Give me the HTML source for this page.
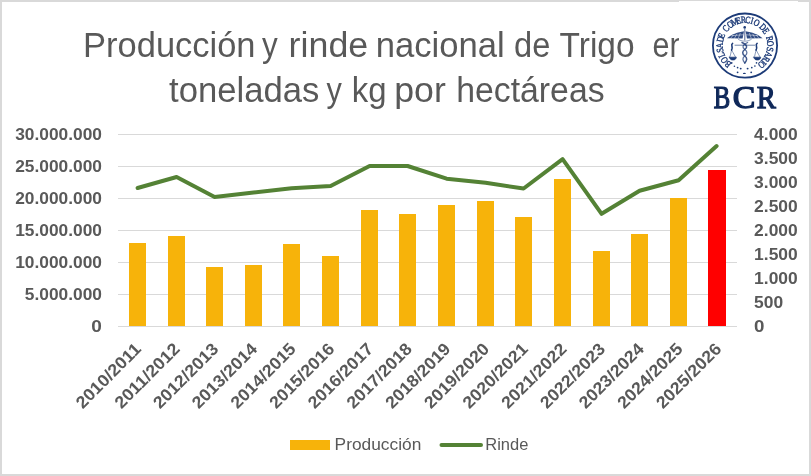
<!DOCTYPE html>
<html><head><meta charset="utf-8"><style>
html,body{margin:0;padding:0;background:#fff;}
svg{display:block;will-change:transform;}
.ax{font-family:"Liberation Sans",sans-serif;font-weight:bold;font-size:17px;fill:#595959;}
.lg{font-family:"Liberation Sans",sans-serif;font-size:17px;fill:#595959;}
.tt{font-family:"Liberation Sans",sans-serif;font-size:34.4px;fill:#595959;}
.seal text{font-family:"Liberation Serif",serif;font-size:9.6px;fill:#1d3b78;stroke:#1d3b78;stroke-width:0.4;}
.bcr text{font-family:"Liberation Serif",serif;font-size:30.5px;fill:#0f2859;stroke:#0f2859;stroke-width:1.25;}
</style></head><body>
<svg width="811" height="476" viewBox="0 0 811 476">
<rect x="0" y="0" width="811" height="476" fill="#d9d9d9"/>
<rect x="2" y="2" width="807" height="472" fill="#fff"/>
<rect x="118.0" y="134" width="619.0" height="1" fill="#d9d9d9"/>
<rect x="118.0" y="166" width="619.0" height="1" fill="#d9d9d9"/>
<rect x="118.0" y="198" width="619.0" height="1" fill="#d9d9d9"/>
<rect x="118.0" y="230" width="619.0" height="1" fill="#d9d9d9"/>
<rect x="118.0" y="262" width="619.0" height="1" fill="#d9d9d9"/>
<rect x="118.0" y="294" width="619.0" height="1" fill="#d9d9d9"/>
<rect x="118.0" y="326" width="619.0" height="1" fill="#d9d9d9"/>
<rect x="129" y="243" width="17" height="83" fill="#F7B30A"/>
<rect x="168" y="236" width="17" height="90" fill="#F7B30A"/>
<rect x="206" y="267" width="17" height="59" fill="#F7B30A"/>
<rect x="245" y="265" width="17" height="61" fill="#F7B30A"/>
<rect x="283" y="244" width="17" height="82" fill="#F7B30A"/>
<rect x="322" y="256" width="17" height="70" fill="#F7B30A"/>
<rect x="361" y="210" width="17" height="116" fill="#F7B30A"/>
<rect x="399" y="214" width="17" height="112" fill="#F7B30A"/>
<rect x="438" y="205" width="17" height="121" fill="#F7B30A"/>
<rect x="477" y="201" width="17" height="125" fill="#F7B30A"/>
<rect x="515" y="217" width="17" height="109" fill="#F7B30A"/>
<rect x="554" y="179" width="17" height="147" fill="#F7B30A"/>
<rect x="593" y="251" width="17" height="75" fill="#F7B30A"/>
<rect x="631" y="234" width="17" height="92" fill="#F7B30A"/>
<rect x="670" y="198" width="17" height="128" fill="#F7B30A"/>
<rect x="708" y="170" width="18" height="156" fill="#FF0000"/>
<polyline points="137.60,188 176.60,177 214.60,197 253.60,192.5 291.60,188.3 330.60,186 369.60,166 407.60,166 446.60,178.7 485.60,182.8 523.60,188.5 562.60,159.2 601.60,213.8 639.60,190.7 678.60,180.2 716.60,146" fill="none" stroke="#548235" stroke-width="4" stroke-linejoin="round" stroke-linecap="round"/>
<text x="102" y="140" text-anchor="end" class="ax" textLength="86.79" lengthAdjust="spacingAndGlyphs">30.000.000</text>
<text x="102" y="172" text-anchor="end" class="ax" textLength="86.79" lengthAdjust="spacingAndGlyphs">25.000.000</text>
<text x="102" y="204" text-anchor="end" class="ax" textLength="86.79" lengthAdjust="spacingAndGlyphs">20.000.000</text>
<text x="102" y="236" text-anchor="end" class="ax" textLength="86.79" lengthAdjust="spacingAndGlyphs">15.000.000</text>
<text x="102" y="268" text-anchor="end" class="ax" textLength="86.79" lengthAdjust="spacingAndGlyphs">10.000.000</text>
<text x="102" y="300" text-anchor="end" class="ax" textLength="77.15" lengthAdjust="spacingAndGlyphs">5.000.000</text>
<text x="102" y="332" text-anchor="end" class="ax" textLength="10.61" lengthAdjust="spacingAndGlyphs">0</text>
<text x="754.1" y="140" class="ax" textLength="43.61" lengthAdjust="spacingAndGlyphs">4.000</text>
<text x="754.1" y="164" class="ax" textLength="43.61" lengthAdjust="spacingAndGlyphs">3.500</text>
<text x="754.1" y="188" class="ax" textLength="43.61" lengthAdjust="spacingAndGlyphs">3.000</text>
<text x="754.1" y="212" class="ax" textLength="43.61" lengthAdjust="spacingAndGlyphs">2.500</text>
<text x="754.1" y="236" class="ax" textLength="43.61" lengthAdjust="spacingAndGlyphs">2.000</text>
<text x="754.1" y="260" class="ax" textLength="43.61" lengthAdjust="spacingAndGlyphs">1.500</text>
<text x="754.1" y="284" class="ax" textLength="43.61" lengthAdjust="spacingAndGlyphs">1.000</text>
<text x="754.1" y="308" class="ax" textLength="29.09" lengthAdjust="spacingAndGlyphs">500</text>
<text x="754.1" y="332" class="ax" textLength="10.45" lengthAdjust="spacingAndGlyphs">0</text>
<text transform="translate(142.12,350) rotate(-45)" text-anchor="end" class="ax" textLength="84.0" lengthAdjust="spacingAndGlyphs">2010/2011</text>
<text transform="translate(180.81,350) rotate(-45)" text-anchor="end" class="ax" textLength="84.0" lengthAdjust="spacingAndGlyphs">2011/2012</text>
<text transform="translate(219.50,350) rotate(-45)" text-anchor="end" class="ax" textLength="84.0" lengthAdjust="spacingAndGlyphs">2012/2013</text>
<text transform="translate(258.19,350) rotate(-45)" text-anchor="end" class="ax" textLength="84.0" lengthAdjust="spacingAndGlyphs">2013/2014</text>
<text transform="translate(296.87,350) rotate(-45)" text-anchor="end" class="ax" textLength="84.0" lengthAdjust="spacingAndGlyphs">2014/2015</text>
<text transform="translate(335.56,350) rotate(-45)" text-anchor="end" class="ax" textLength="84.0" lengthAdjust="spacingAndGlyphs">2015/2016</text>
<text transform="translate(374.25,350) rotate(-45)" text-anchor="end" class="ax" textLength="84.0" lengthAdjust="spacingAndGlyphs">2016/2017</text>
<text transform="translate(412.94,350) rotate(-45)" text-anchor="end" class="ax" textLength="84.0" lengthAdjust="spacingAndGlyphs">2017/2018</text>
<text transform="translate(451.62,350) rotate(-45)" text-anchor="end" class="ax" textLength="84.0" lengthAdjust="spacingAndGlyphs">2018/2019</text>
<text transform="translate(490.31,350) rotate(-45)" text-anchor="end" class="ax" textLength="84.0" lengthAdjust="spacingAndGlyphs">2019/2020</text>
<text transform="translate(529.00,350) rotate(-45)" text-anchor="end" class="ax" textLength="84.0" lengthAdjust="spacingAndGlyphs">2020/2021</text>
<text transform="translate(567.69,350) rotate(-45)" text-anchor="end" class="ax" textLength="84.0" lengthAdjust="spacingAndGlyphs">2021/2022</text>
<text transform="translate(606.37,350) rotate(-45)" text-anchor="end" class="ax" textLength="84.0" lengthAdjust="spacingAndGlyphs">2022/2023</text>
<text transform="translate(645.06,350) rotate(-45)" text-anchor="end" class="ax" textLength="84.0" lengthAdjust="spacingAndGlyphs">2023/2024</text>
<text transform="translate(683.75,350) rotate(-45)" text-anchor="end" class="ax" textLength="84.0" lengthAdjust="spacingAndGlyphs">2024/2025</text>
<text transform="translate(722.44,350) rotate(-45)" text-anchor="end" class="ax" textLength="84.0" lengthAdjust="spacingAndGlyphs">2025/2026</text>
<rect x="290" y="440" width="40" height="10" fill="#F7B30A"/>
<text x="334.6" y="449.7" class="lg" textLength="86.76" lengthAdjust="spacingAndGlyphs">Producción</text>
<line x1="441.5" y1="445" x2="481" y2="445" stroke="#548235" stroke-width="4" stroke-linecap="round"/>
<text x="485.3" y="449.7" class="lg" textLength="43.09" lengthAdjust="spacingAndGlyphs">Rinde</text>
<text x="83.11" y="57" class="tt" textLength="172.39" lengthAdjust="spacingAndGlyphs">Producción</text>
<text x="262.10" y="57" class="tt" textLength="15.72" lengthAdjust="spacingAndGlyphs">y</text>
<text x="288.63" y="57" class="tt" textLength="79.58" lengthAdjust="spacingAndGlyphs">rinde</text>
<text x="375.80" y="57" class="tt" textLength="128.93" lengthAdjust="spacingAndGlyphs">nacional</text>
<text x="514.11" y="57" class="tt" textLength="36.30" lengthAdjust="spacingAndGlyphs">de</text>
<text x="559.60" y="57" class="tt" textLength="74.98" lengthAdjust="spacingAndGlyphs">Trigo</text>
<text x="169.00" y="102.2" class="tt" textLength="150.39" lengthAdjust="spacingAndGlyphs">toneladas</text>
<text x="326.40" y="102.2" class="tt" textLength="15.34" lengthAdjust="spacingAndGlyphs">y</text>
<text x="351.71" y="102.2" class="tt" textLength="34.75" lengthAdjust="spacingAndGlyphs">kg</text>
<text x="394.24" y="102.2" class="tt" textLength="51.54" lengthAdjust="spacingAndGlyphs">por</text>
<text x="456.25" y="102.2" class="tt" textLength="148.31" lengthAdjust="spacingAndGlyphs">hectáreas</text>
<text x="652.48" y="57" class="tt" textLength="33.97" lengthAdjust="spacingAndGlyphs">en</text>
<rect x="679" y="1" width="119" height="120" fill="#fff"/>
<rect x="679" y="0" width="119" height="1" fill="#d9d9d9"/>
<defs><filter id="bl" x="-10%" y="-10%" width="120%" height="120%"><feGaussianBlur stdDeviation="0.25"/></filter></defs>
<g filter="url(#bl)">
<circle cx="745.0" cy="45.6" r="32.1" fill="none" stroke="#1d3b78" stroke-width="1.8"/>
<g class="seal">
<text transform="translate(730.19,61.88) rotate(-138.4) scale(0.8,1)" text-anchor="middle">B</text>
<text transform="translate(726.82,58.12) rotate(-125.4) scale(0.8,1)" text-anchor="middle">O</text>
<text transform="translate(724.41,53.77) rotate(-112.6) scale(0.8,1)" text-anchor="middle">L</text>
<text transform="translate(723.15,49.65) rotate(-101.5) scale(0.8,1)" text-anchor="middle">S</text>
<text transform="translate(722.70,45.59) rotate(-91) scale(0.8,1)" text-anchor="middle">A</text>
<text transform="translate(723.33,39.96) rotate(-76.4) scale(0.8,1)" text-anchor="middle">D</text>
<text transform="translate(724.35,36.77) rotate(-67.8) scale(0.8,1)" text-anchor="middle">E</text>
<text transform="translate(728.20,30.54) rotate(-48.9) scale(0.8,1)" text-anchor="middle">C</text>
<text transform="translate(732.02,27.07) rotate(-35.6) scale(0.8,1)" text-anchor="middle">O</text>
<text transform="translate(735.79,24.89) rotate(-24.4) scale(0.8,1)" text-anchor="middle">M</text>
<text transform="translate(739.19,23.67) rotate(-15.1) scale(0.8,1)" text-anchor="middle">E</text>
<text transform="translate(743.56,22.95) rotate(-3.7) scale(0.8,1)" text-anchor="middle">R</text>
<text transform="translate(747.56,23.05) rotate(6.6) scale(0.8,1)" text-anchor="middle">C</text>
<text transform="translate(751.18,23.77) rotate(16.1) scale(0.8,1)" text-anchor="middle">I</text>
<text transform="translate(755.33,25.44) rotate(27.6) scale(0.8,1)" text-anchor="middle">O</text>
<text transform="translate(760.63,29.29) rotate(44.5) scale(0.8,1)" text-anchor="middle">D</text>
<text transform="translate(763.42,32.63) rotate(55.7) scale(0.8,1)" text-anchor="middle">E</text>
<text transform="translate(766.55,39.47) rotate(75.1) scale(0.8,1)" text-anchor="middle">R</text>
<text transform="translate(767.26,43.84) rotate(86.5) scale(0.8,1)" text-anchor="middle">O</text>
<text transform="translate(767.00,48.84) rotate(99.4) scale(0.8,1)" text-anchor="middle">S</text>
<text transform="translate(765.72,53.45) rotate(111.7) scale(0.8,1)" text-anchor="middle">A</text>
<text transform="translate(763.68,57.38) rotate(123.1) scale(0.8,1)" text-anchor="middle">R</text>
<text transform="translate(761.49,60.21) rotate(132.3) scale(0.8,1)" text-anchor="middle">I</text>
<text transform="translate(759.33,62.28) rotate(140) scale(0.8,1)" text-anchor="middle">O</text>
</g>
<g fill="none" stroke="#1d3b78" stroke-linecap="round">
<circle cx="744.7" cy="27.4" r="1.3" fill="#1d3b78" stroke="none"/>
<path d="M744.8 29.5 L744.8 40" stroke-width="1.1" opacity="0.7"/>
<path d="M744 31.2 C738 32 731 34.5 727 38.2 L742.6 38.4 Z" fill="#1d3b78" stroke="none" opacity="0.92"/>
<path d="M745.6 31.2 C751.6 32 758.6 34.5 762.6 38.2 L747 38.4 Z" fill="#1d3b78" stroke="none" opacity="0.92"/>
<path d="M730.6 38.4 L733.2 35.2 M734.4 38.4 L736.8 34.2 M738.2 38.4 L740.2 33.4 M732 35.6 L743 34.8" stroke="#fff" stroke-width="0.55" opacity="0.85"/>
<path d="M759 38.4 L756.4 35.2 M755.2 38.4 L752.8 34.2 M751.4 38.4 L749.4 33.4 M757.6 35.6 L746.6 34.8" stroke="#fff" stroke-width="0.55" opacity="0.85"/>
<path d="M735 45.2 L754.6 45.2" stroke-width="0.8" opacity="0.8"/>
<path d="M732.6 43.4 C730 45 733.8 47.2 731.6 50" stroke-width="1.6"/>
<path d="M757.1 43.4 C754.5 45 758.3 47.2 756.1 50" stroke-width="1.6"/>
<path d="M731.6 50 L730 56.8 M731.6 50 L735.4 56.8" stroke-width="0.7" stroke-dasharray="1 0.8" opacity="0.75"/>
<path d="M756.1 50 L754.5 56.8 M756.1 50 L759.9 56.8" stroke-width="0.7" stroke-dasharray="1 0.8" opacity="0.75"/>
<path d="M729.4 57.2 L736.4 57.2 C735.9 59.6 734.5 60 732.9 60 C731.3 60 729.9 59.6 729.4 57.2 Z" fill="#1d3b78" stroke-width="0.7"/>
<path d="M753.8 57.2 L760.8 57.2 C760.3 59.6 758.9 60 757.3 60 C755.7 60 754.3 59.6 753.8 57.2 Z" fill="#1d3b78" stroke-width="0.7"/>
<path d="M738 39 C741 42 748.6 42 751.6 39" stroke-width="0.9" opacity="0.55"/>
<path d="M742 42.5 C747.6 45 747.6 47.5 744.8 49.5 C742 51.5 742 54 744.8 56 C747.6 58 747 60.5 744.8 63" stroke-width="1.5" opacity="0.85"/>
<path d="M747.6 42.5 C742 45 742 47.5 744.8 49.5 C747.6 51.5 747.6 54 744.8 56 C742 58 742.6 60.5 744.8 63" stroke-width="1.3" opacity="0.7"/>
<g fill="#1d3b78" stroke="none" opacity="1">
<circle cx="731.8" cy="62.9" r="0.8"/><circle cx="734.4" cy="66.3" r="0.8"/><circle cx="737.6" cy="67.6" r="0.85"/><circle cx="740.7" cy="68.6" r="0.95"/>
<circle cx="747.6" cy="68.6" r="0.95"/><circle cx="751.8" cy="67.6" r="0.85"/><circle cx="754.9" cy="66.1" r="0.8"/><circle cx="756.5" cy="62.9" r="0.8"/>
<circle cx="737.6" cy="72.3" r="0.9"/><ellipse cx="744.4" cy="73.4" rx="1.5" ry="0.7"/><circle cx="751.2" cy="72.3" r="0.9"/>
</g>
</g>
</g>
<g class="bcr">
<text x="713.80" y="108.3" textLength="16.46" lengthAdjust="spacingAndGlyphs">B</text>
<text x="732.74" y="108.3" textLength="22.58" lengthAdjust="spacingAndGlyphs">C</text>
<text x="756.70" y="108.3" textLength="19.11" lengthAdjust="spacingAndGlyphs">R</text>
</g>
</svg>
</body></html>
